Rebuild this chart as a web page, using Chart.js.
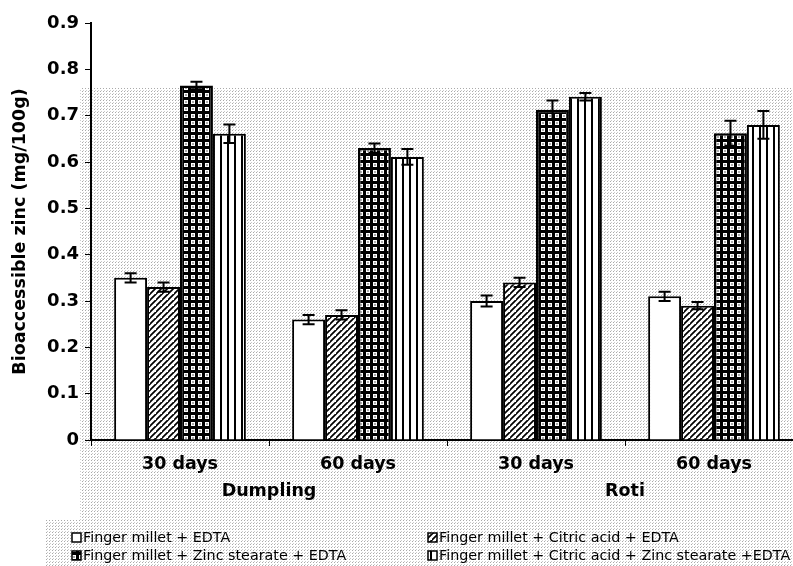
<!DOCTYPE html>
<html>
<head>
<meta charset="utf-8">
<script src="https://cdn.jsdelivr.net/npm/chart.js@4.4.0/dist/chart.umd.min.js"></script>
<style>
  html, body { margin: 0; background: #fff; overflow: hidden; }
  #wrap { width: 793px; height: 566px; overflow: hidden; }
</style>
</head>
<body>
<div id="wrap"><canvas id="grafico" width="803" height="566"></canvas></div>
<script>
// dados
var categorias = ['30 days', '60 days', '30 days', '60 days'];
var grupos = ['Dumpling', 'Roti'];
var series = [
    'Finger millet + EDTA',
    'Finger millet + Citric acid + EDTA',
    'Finger millet + Zinc stearate + EDTA',
    'Finger millet + Citric acid + Zinc stearate +EDTA'
];
var edta = [0.35, 0.26, 0.30, 0.31];
var citrico = [0.33, 0.27, 0.34, 0.29];
var zinco = [0.765, 0.63, 0.713, 0.662];
var citricoZinco = [0.661, 0.611, 0.741, 0.68];
var erroEdta = [0.01, 0.01, 0.012, 0.01];
var erroCitrico = [0.01, 0.01, 0.01, 0.008];
var erroZinco = [0.008, 0.01, 0.02, 0.027];
var erroCitricoZinco = [0.02, 0.017, 0.008, 0.03];
var ticksY = [0, 0.1, 0.2, 0.3, 0.4, 0.5, 0.6, 0.7, 0.8, 0.9];

var fonte = "'DejaVu Sans', sans-serif";

// padroes de preenchimento
function padrao(tam, desenha){
    var c = document.createElement('canvas');
    c.width = tam; c.height = tam;
    var g = c.getContext('2d');
    desenha(g, tam);
    return c;
}
var ctx = document.getElementById('grafico');
var c2d = ctx.getContext('2d');

var pBranco = '#ffffff';
var pListra = c2d.createPattern(padrao(6, function(g, t){
    g.fillStyle = '#fff'; g.fillRect(0, 0, t, t);
    g.strokeStyle = '#000'; g.lineWidth = 1.7;
    g.beginPath();
    g.moveTo(-1, t + 1); g.lineTo(t + 1, -1);
    g.moveTo(-1 - t, t + 1); g.lineTo(1, -1);
    g.moveTo(t - 1, 2 * t + 1); g.lineTo(2 * t + 1, t - 1);
    g.stroke();
}), 'repeat');
var pGrade = c2d.createPattern(padrao(7, function(g, t){
    g.fillStyle = '#000'; g.fillRect(0, 0, t, t);
    g.fillStyle = '#fff'; g.fillRect(2, 2, 4, 4);
    g.fillStyle = '#aaa'; g.fillRect(3, 3, 2, 2);
}), 'repeat');
var pVertical = c2d.createPattern(padrao(7, function(g, t){
    g.fillStyle = '#fff'; g.fillRect(0, 0, t, t);
    g.fillStyle = '#000'; g.fillRect(3, 0, 2, t);
}), 'repeat');
var pPontos = c2d.createPattern(padrao(3, function(g, t){
    g.fillStyle = '#fff'; g.fillRect(0, 0, t, t);
    g.fillStyle = '#aaa'; g.fillRect(1, 1, 1, 1);
    g.fillStyle = '#ccc'; g.fillRect(2, 0, 1, 1);
}), 'repeat');

var fundos = [pBranco, pListra, pGrade, pVertical];
var valores = [edta, citrico, zinco, citricoZinco];
var erros = [erroEdta, erroCitrico, erroZinco, erroCitricoZinco];

var fundoPontilhado = {
    id: 'fundoPontilhado',
    beforeDraw: function(chart){
        var g = chart.ctx;
        g.save();
        g.fillStyle = pPontos;
        g.fillRect(80, 88, 723, 432);
        g.fillRect(45, 520, 758, 46);
        g.restore();
    }
};

var barrasErro = {
    id: 'barrasErro',
    afterDatasetsDraw: function(chart){
        var g = chart.ctx;
        var y = chart.scales.y;
        g.save();
        g.strokeStyle = '#000';
        g.lineWidth = 2;
        chart.data.datasets.forEach(function(ds, i){
            chart.getDatasetMeta(i).data.forEach(function(bar, j){
                var v = ds.data[j], e = erros[i][j];
                var y1 = y.getPixelForValue(v + e), y2 = y.getPixelForValue(v - e);
                g.beginPath();
                g.moveTo(bar.x, y1); g.lineTo(bar.x, y2);
                g.moveTo(bar.x - 6, y1); g.lineTo(bar.x + 6, y1);
                g.moveTo(bar.x - 6, y2); g.lineTo(bar.x + 6, y2);
                g.stroke();
            });
        });
        g.restore();
    }
};

var rotulosGrupo = {
    id: 'rotulosGrupo',
    afterDraw: function(chart){
        var g = chart.ctx;
        var x = chart.scales.x;
        g.save();
        g.fillStyle = '#000';
        g.font = 'bold 17.5px ' + fonte;
        g.textAlign = 'center';
        g.textBaseline = 'middle';
        grupos.forEach(function(nome, k){
            var xc = (x.getPixelForValue(2 * k) + x.getPixelForValue(2 * k + 1)) / 2;
            g.fillText(nome, xc, 491);
        });
        // legenda em duas colunas
        g.font = '14.3px ' + fonte;
        g.textAlign = 'left';
        var pos = [[72, 538], [428, 538], [72, 556], [428, 556]];
        series.forEach(function(nome, i){
            var px = pos[i][0], py = pos[i][1];
            g.fillStyle = fundos[i];
            g.fillRect(px, py - 5, 9, 9);
            g.strokeStyle = '#000';
            g.lineWidth = 1.5;
            g.strokeRect(px, py - 5, 9, 9);
            g.fillStyle = '#000';
            g.fillText(nome, px + 11, py);
        });
        g.restore();
    }
};

new Chart(ctx, {
    type: 'bar',
    data: {
        labels: categorias,
        datasets: series.map(function(nome, i){
            return {
                label: nome,
                data: valores[i],
                backgroundColor: fundos[i],
                borderColor: '#000',
                borderWidth: i == 2 ? 2.5 : 2,
                categoryPercentage: 0.74,
                barPercentage: 1.0
            };
        })
    },
    options: {
        responsive: false,
        animation: false,
        layout: { padding: { top: 23, right: 0, left: 0, bottom: 0 } },
        plugins: {
            legend: { display: false },
            tooltip: { enabled: false }
        },
        scales: {
            x: {
                grid: { display: true, drawOnChartArea: false, offset: true, color: '#000', tickLength: 6, lineWidth: 1 },
                border: { color: '#000', width: 2 },
                ticks: { color: '#000', font: { family: fonte, size: 17.5, weight: 'bold' }, padding: 8 },
                afterFit: function(s){ s.height = 126; }
            },
            y: {
                min: 0,
                max: 0.9,
                afterBuildTicks: function(s){ s.ticks = ticksY.map(function(v){ return { value: v }; }); },
                grid: { display: true, drawOnChartArea: false, color: '#000', tickLength: 6 },
                border: { color: '#000', width: 2 },
                ticks: {
                    color: '#000',
                    font: { family: fonte, size: 18, weight: 'bold' },
                    padding: 6,
                    callback: function(v){ return v == 0 ? '0' : v.toFixed(1); }
                },
                title: {
                    display: true,
                    text: 'Bioaccessible zinc (mg/100g)',
                    color: '#000',
                    font: { family: fonte, size: 17.5, weight: 'bold' },
                    padding: { top: 10, bottom: 10 }
                },
                afterFit: function(s){ s.width = 91; }
            }
        }
    },
    plugins: [fundoPontilhado, barrasErro, rotulosGrupo]
});
</script>
</body>
</html>
